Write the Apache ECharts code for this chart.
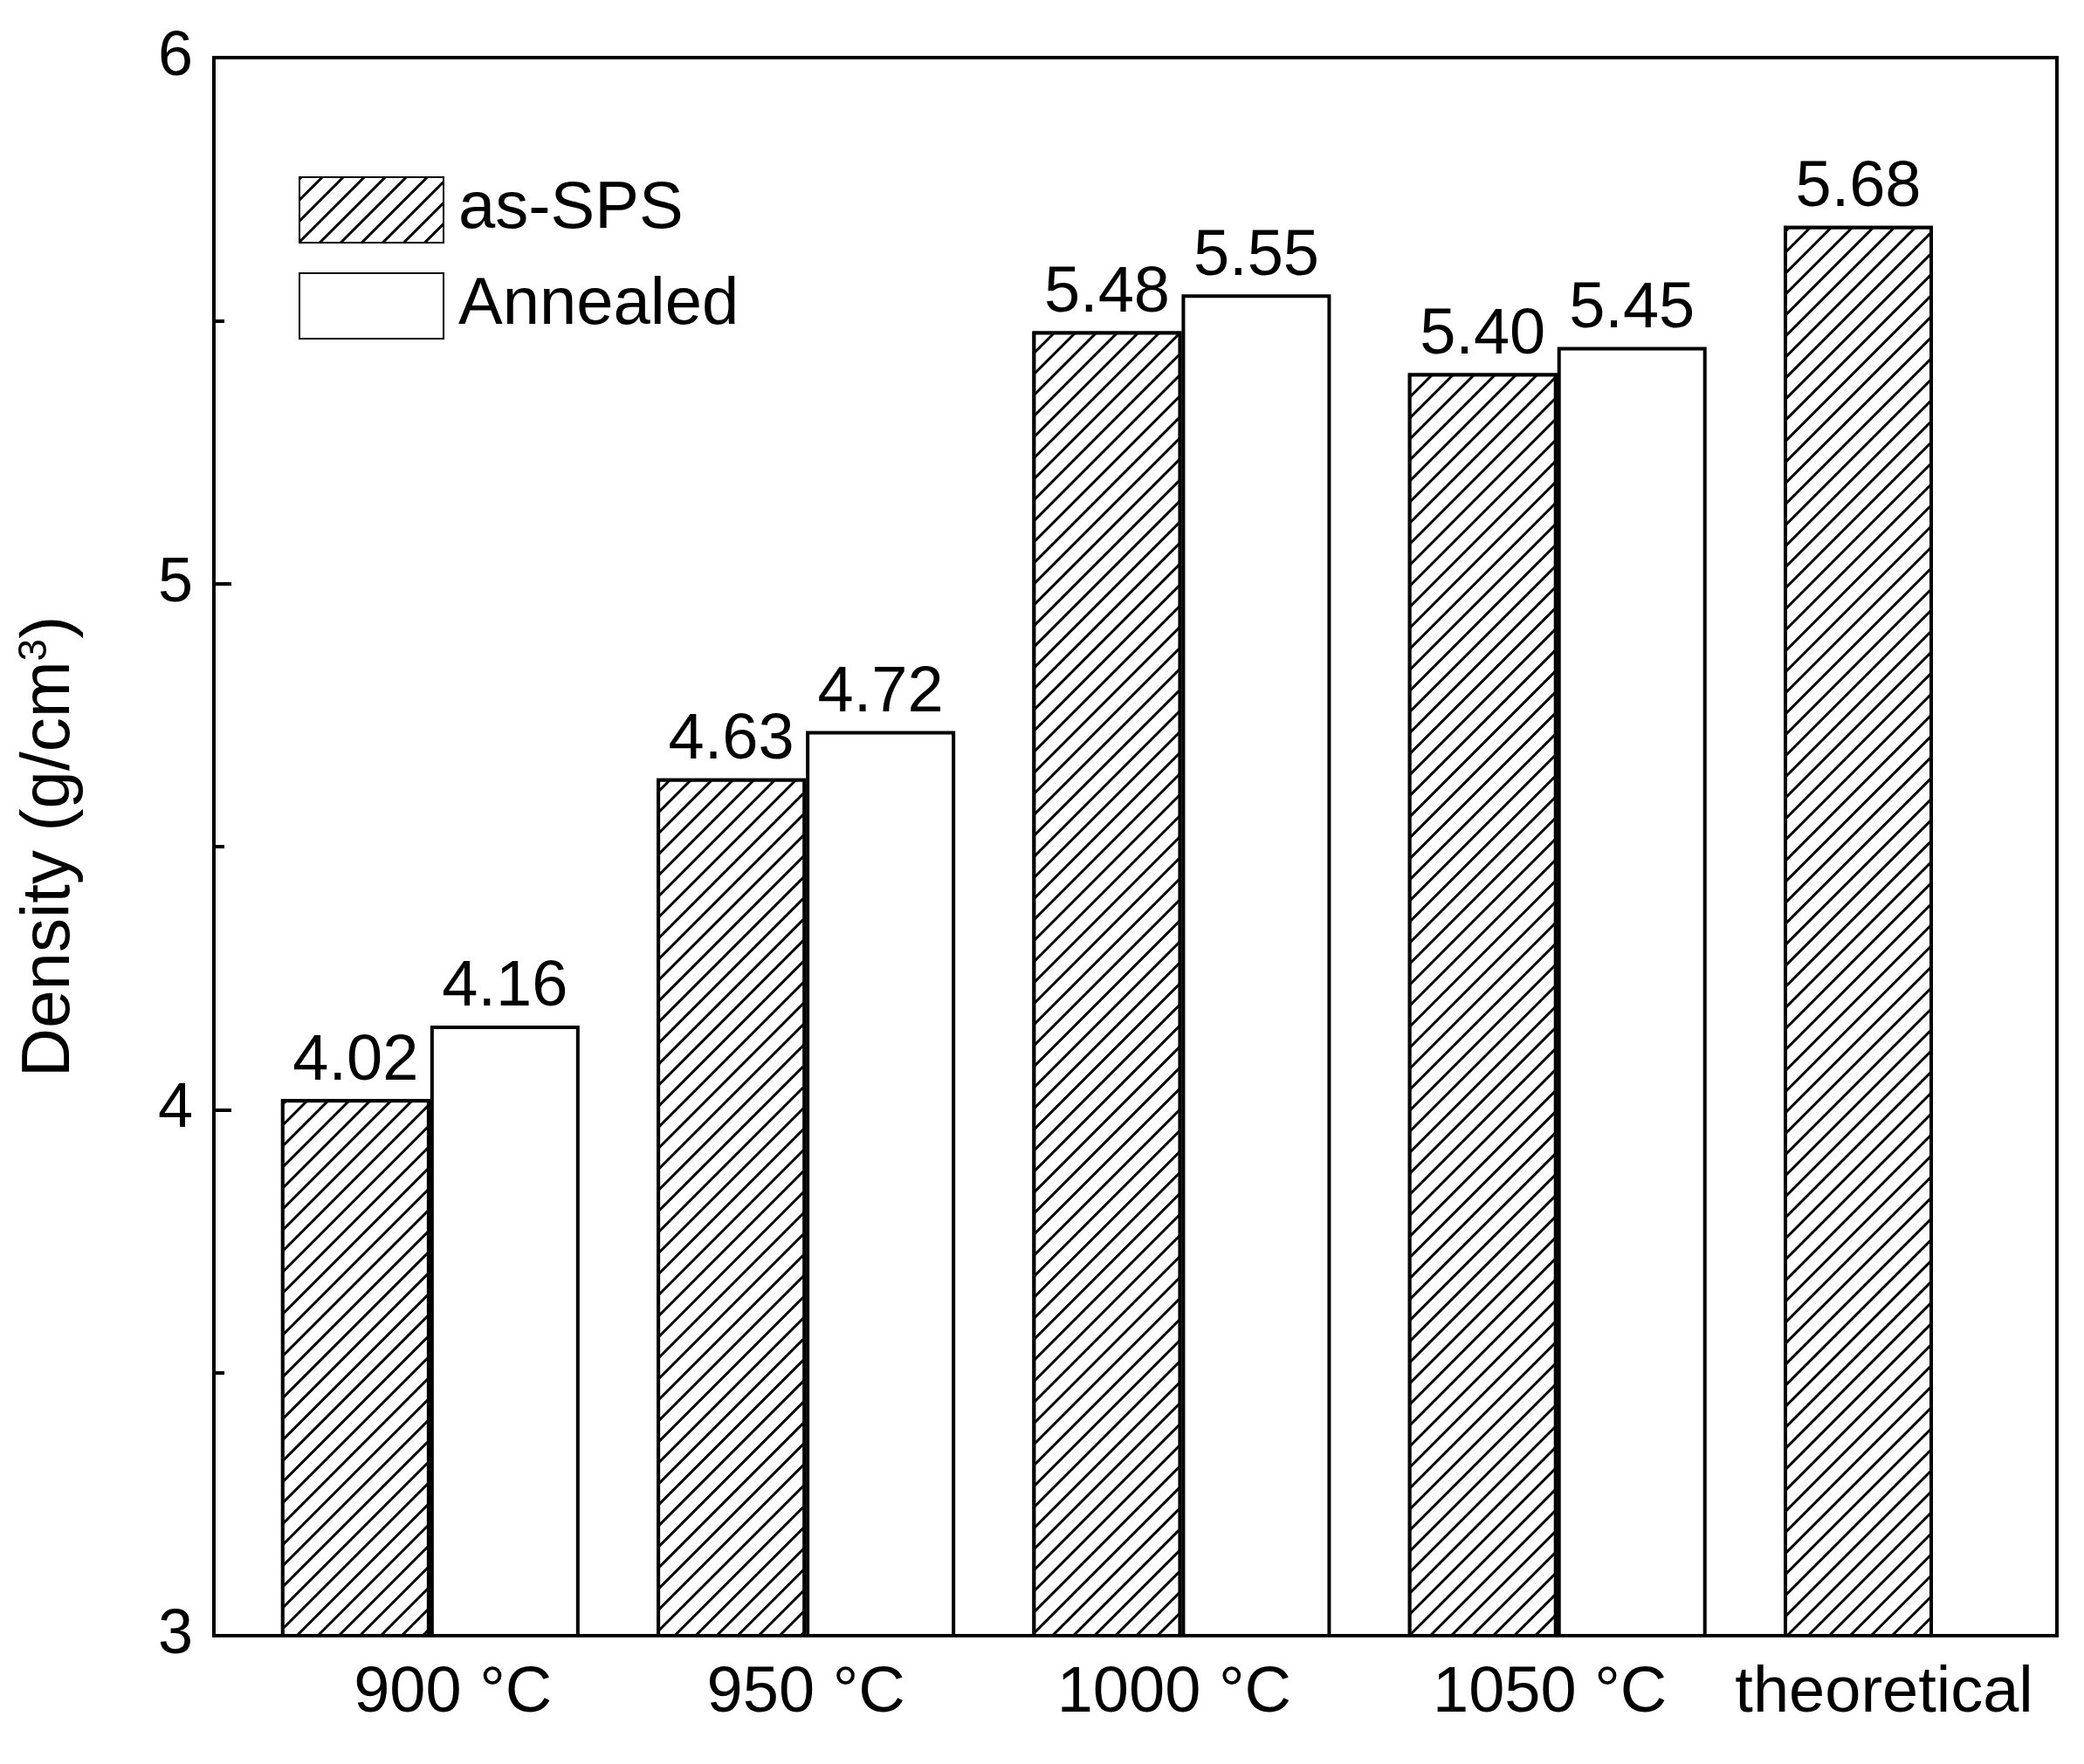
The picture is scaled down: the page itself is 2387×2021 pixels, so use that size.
<!DOCTYPE html>
<html><head><meta charset="utf-8">
<script src="https://cdn.jsdelivr.net/npm/echarts@6/dist/echarts.min.js"></script>
<style>html,body{margin:0;padding:0;background:#fff}#c{width:2387px;height:2021px}</style>
</head><body><div id="c"></div>
<script>
var categories = ['900 \u00B0C', '950 \u00B0C', '1000 \u00B0C', '1050 \u00B0C', 'theoretical'];
var labelPos = [1.06, 2, 2.98, 3.98, 4.87];
var asSPS = [4.02, 4.63, 5.48, 5.40, 5.68];
var annealed = [4.16, 4.72, 5.55, 5.45];
var yTicks = [3, 4, 5, 6];

var myChart = echarts.init(document.getElementById('c'));
var font = 'Liberation Sans';
var hatch = {
  symbol: 'rect', color: '#000', backgroundColor: '#fff',
  dashArrayX: [1, 0], dashArrayY: [3, 14], rotation: -Math.PI / 4
};
var label = {
  show: true, position: 'top', color: '#000', fontFamily: font, fontSize: 74, distance: 6,
  formatter: function (p) { return p.value[1].toFixed(2); }
};

var option = {
  animation: false,
  backgroundColor: '#fff',
  grid: { left: 245, right: 31, top: 66, bottom: 147, show: true, borderColor: '#000', borderWidth: 4 },
  legend: {
    left: 337, top: 197, orient: 'vertical', itemWidth: 165, itemHeight: 75, itemGap: 33,
    icon: 'rect',
    textStyle: { fontFamily: font, fontSize: 76, color: '#000', padding: [0, 0, 0, 12] },
    data: ['as-SPS', 'Annealed']
  },
  xAxis: {
    type: 'value', min: 0.424, max: 5.33,
    splitLine: { show: false },
    axisLine: { lineStyle: { color: '#000', width: 4 } },
    axisTick: { show: false },
    axisLabel: {
      customValues: labelPos, margin: 30,
      fontFamily: font, fontSize: 74, color: '#000',
      formatter: function (v) {
        var best = 0;
        labelPos.forEach(function (p, i) { if (Math.abs(p - v) < Math.abs(labelPos[best] - v)) best = i; });
        return categories[best];
      }
    }
  },
  yAxis: {
    type: 'value', min: 3, max: 6, interval: 1,
    name: 'Density (g/cm{s|3})', nameLocation: 'middle', nameGap: 148,
    nameTextStyle: { fontFamily: font, fontSize: 78, color: '#000', rich: { s: { fontSize: 46, verticalAlign: 'top', padding: [0, 0, 34, 0], fontFamily: font } } },
    splitLine: { show: false },
    axisLine: { lineStyle: { color: '#000', width: 4 } },
    axisTick: { inside: true, length: 20, lineStyle: { width: 4 } },
    minorTick: { show: true, splitNumber: 2, length: 12, lineStyle: { color: '#000', width: 4 } },
    axisLabel: { fontFamily: font, fontSize: 72, color: '#000', margin: 24,
      formatter: function (v) { return yTicks.indexOf(v) >= 0 ? v : ''; } }
  },
  series: [
    {
      name: 'as-SPS', type: 'bar', barWidth: 171, barGap: 0,
      data: asSPS.map(function (v, i) { return [i + 1, v]; }),
      itemStyle: { color: '#fff', borderColor: '#000', borderWidth: 4, decal: hatch },
      label: label
    },
    {
      name: 'Annealed', type: 'bar', barWidth: 171, barGap: 0,
      data: annealed.map(function (v, i) { return [i + 1, v]; }),
      itemStyle: { color: '#fff', borderColor: '#000', borderWidth: 4 },
      label: label
    }
  ]
};
option && myChart.setOption(option);
</script></body></html>
